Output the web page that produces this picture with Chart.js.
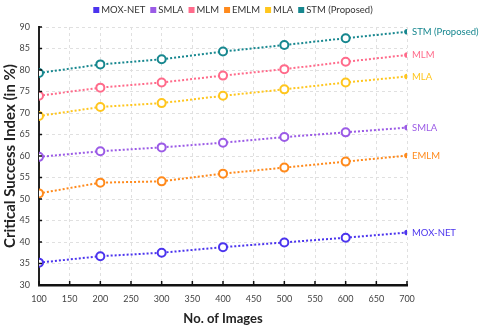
<!DOCTYPE html>
<html><head><meta charset="utf-8">
<script src="https://cdn.jsdelivr.net/npm/chart.js@4.4.0/dist/chart.umd.min.js"></script>
<style>html,body{margin:0;padding:0;background:#fff}#wrap{width:480px;height:329px}</style>
</head><body><div id="wrap"><canvas id="c" width="480" height="329"></canvas></div>
<script>
const images = [100, 200, 300, 400, 500, 600, 700];
const moxNet = [35.2, 36.7, 37.5, 38.8, 39.9, 41.0, 42.2];
const smla   = [59.8, 61.1, 62.0, 63.1, 64.4, 65.5, 66.6];
const mlm    = [74.0, 75.9, 77.1, 78.7, 80.2, 81.9, 83.5];
const emlm   = [51.3, 53.8, 54.1, 55.9, 57.3, 58.7, 60.1];
const mla    = [69.3, 71.4, 72.3, 74.0, 75.5, 77.1, 78.5];
const stm    = [79.3, 81.3, 82.5, 84.3, 85.8, 87.4, 88.9];
const seriesNames = ['MOX-NET', 'SMLA', 'MLM', 'EMLM', 'MLA', 'STM (Proposed)'];
const seriesData = [moxNet, smla, mlm, emlm, mla, stm];
const colors = ['#4b34ee', '#9b5be6', '#ff6b8b', '#ff8a1c', '#ffc61e', '#17878f'];

const FONT = 'Lato, "Open Sans", sans-serif';

const datasets = seriesNames.map((n, i) => ({
  label: n,
  data: images.map((x, j) => ({x: x, y: seriesData[i][j]})),
  borderColor: colors[i],
  backgroundColor: colors[i],
  borderWidth: 2,
  borderDash: [2, 2],
  pointRadius: images.map((x, j) => j === images.length - 1 ? 1.8 : 4),
  pointBorderWidth: 2,
  pointBackgroundColor: images.map((x, j) => j === images.length - 1 ? colors[i] : '#fff'),
  pointBorderColor: colors[i],
  tension: 0
}));

const endLabels = {
  id: 'endLabels',
  afterDatasetsDraw(chart) {
    const ctx = chart.ctx;
    ctx.save();
    ctx.font = '9.5px ' + FONT;
    ctx.textBaseline = 'middle';
    ctx.textAlign = 'left';
    chart.data.datasets.forEach((ds, i) => {
      const meta = chart.getDatasetMeta(i);
      const pt = meta.data[meta.data.length - 1];
      ctx.fillStyle = colors[i];
      ctx.fillText(ds.label, pt.x + 5, pt.y);
    });
    ctx.restore();
  }
};

const topLegend = {
  id: 'topLegend',
  afterDraw(chart) {
    const ctx = chart.ctx;
    ctx.save();
    ctx.font = '9.5px ' + FONT;
    ctx.textBaseline = 'middle';
    ctx.textAlign = 'left';
    const box = 6, gap = 2, spacing = 5;
    let total = 0;
    seriesNames.forEach((n, i) => {
      total += box + gap + ctx.measureText(n).width + (i < seriesNames.length - 1 ? spacing : 0);
    });
    let x = 233 - total / 2;
    const y = 10;
    seriesNames.forEach((n, i) => {
      ctx.fillStyle = colors[i];
      ctx.fillRect(x, y - box / 2, box, box);
      x += box + gap;
      ctx.fillStyle = '#333';
      ctx.fillText(n, x, y);
      x += ctx.measureText(n).width + spacing;
    });
    ctx.restore();
  }
};

const innerTicks = {
  id: 'innerTicks',
  afterDraw(chart) {
    const ctx = chart.ctx;
    const xs = chart.scales.x, ys = chart.scales.y;
    ctx.save();
    ctx.strokeStyle = '#111';
    ctx.lineWidth = 1.5;
    xs.ticks.forEach(t => {
      const px = xs.getPixelForValue(t.value);
      ctx.beginPath(); ctx.moveTo(px, ys.bottom); ctx.lineTo(px, ys.bottom - 4); ctx.stroke();
    });
    ys.ticks.forEach(t => {
      const py = ys.getPixelForValue(t.value);
      ctx.beginPath(); ctx.moveTo(xs.left, py); ctx.lineTo(xs.left + 3, py); ctx.stroke();
    });
    ctx.restore();
  }
};

new Chart(document.getElementById('c'), {
  type: 'line',
  data: { datasets },
  plugins: [endLabels, innerTicks, topLegend],
  options: {
    responsive: false,
    animation: false,
    layout: { padding: { left: 0, right: 73, top: 27, bottom: 2 } },
    plugins: {
      legend: { display: false },
      tooltip: { enabled: false }
    },
    scales: {
      x: {
        type: 'linear', min: 100, max: 700,
        ticks: { stepSize: 50, color: '#444', font: { family: FONT, size: 9 }, padding: 9 },
        grid: { color: '#e0e0e0', drawTicks: false, lineWidth: 1 },
        border: { color: '#111', width: 2.5, dash: [3, 3] },
        title: { display: true, text: 'No. of Images', color: '#222', font: { family: FONT, size: 13, weight: 'bold' }, padding: { top: 6, bottom: 0 } },
        afterFit(s) { s.height = 42; }
      },
      y: {
        min: 30, max: 90,
        ticks: { stepSize: 5, color: '#444', font: { family: FONT, size: 9 }, padding: 9 },
        grid: { color: '#e0e0e0', drawTicks: false, lineWidth: 1 },
        border: { color: '#222', width: 2, dash: [3, 3] },
        title: { display: true, text: 'Critical Success Index (in %)', color: '#222', font: { family: FONT, size: 15, weight: 'bold' }, padding: { top: 1, bottom: 0 } },
        afterFit(s) { s.width = 39; }
      }
    }
  }
});
</script>
</body></html>
